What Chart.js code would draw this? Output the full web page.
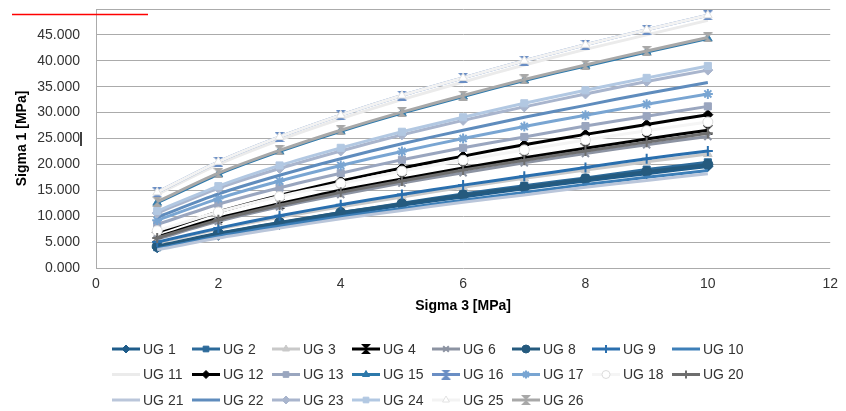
<!DOCTYPE html>
<html>
<head>
<meta charset="utf-8">
<script src="https://cdn.jsdelivr.net/npm/chart.js@4/dist/chart.umd.min.js"></script>
<style>
  body { margin: 0; background: #fff; }
  canvas { display: block; }
</style>
</head>
<body>
<canvas id="sigmaChart" width="846" height="411"></canvas>
<script>
// Sigma 3 values (x axis)
const sigma3 = [1, 2, 3, 4, 5, 6, 7, 8, 9, 10];

// Sigma 1 values per sample
const ug1  = [3.9, 6.3, 8.4, 10.3, 12.1, 13.7, 15.3, 16.8, 18.2, 19.6];
const ug2  = [4.0, 6.6, 8.7, 10.7, 12.5, 14.3, 15.9, 17.4, 19.0, 20.4];
const ug3  = [4.8, 7.5, 9.8, 11.8, 13.7, 15.6, 17.3, 18.9, 20.5, 22.0];
const ug4  = [6.0, 9.6, 12.4, 15.0, 17.2, 19.3, 21.3, 23.1, 24.9, 26.6];
const ug6  = [5.6, 9.0, 11.8, 14.2, 16.4, 18.4, 20.3, 22.1, 23.8, 25.4];
const ug8  = [4.2, 6.7, 8.8, 10.7, 12.4, 14.1, 15.6, 17.2, 18.6, 20.0];
const ug9  = [5.0, 7.7, 10.1, 12.2, 14.2, 16.0, 17.7, 19.4, 21.1, 22.6];
const ug10 = [3.7, 6.1, 8.1, 9.9, 11.5, 13.1, 14.6, 16.1, 17.5, 18.8];
const ug11 = [14.2, 20.0, 24.7, 28.8, 32.5, 35.9, 39.2, 42.2, 45.0, 47.8];
const ug12 = [6.9, 10.8, 14.0, 16.8, 19.3, 21.6, 23.8, 25.8, 27.7, 29.6];
const ug13 = [8.4, 12.3, 15.5, 18.3, 20.9, 23.2, 25.3, 27.4, 29.3, 31.2];
const ug15 = [12.6, 18.1, 22.5, 26.4, 29.9, 33.1, 36.2, 39.0, 41.7, 44.3];
const ug16 = [14.6, 20.5, 25.3, 29.5, 33.3, 36.7, 40.0, 43.1, 46.0, 48.8];
const ug17 = [9.2, 13.4, 16.8, 19.8, 22.5, 25.0, 27.3, 29.5, 31.6, 33.6];
const ug18 = [7.2, 10.8, 13.8, 16.3, 18.7, 20.8, 22.8, 24.7, 26.5, 28.2];
const ug20 = [5.8, 9.3, 12.1, 14.6, 16.8, 18.9, 20.8, 22.6, 24.3, 26.0];
const ug21 = [3.5, 5.8, 7.7, 9.5, 11.1, 12.7, 14.1, 15.6, 16.9, 18.2];
const ug22 = [9.8, 14.3, 17.9, 21.1, 24.0, 26.6, 29.1, 31.4, 33.7, 35.8];
const ug23 = [10.6, 15.4, 19.2, 22.6, 25.7, 28.5, 31.1, 33.6, 36.0, 38.2];
const ug24 = [11.0, 15.8, 19.8, 23.2, 26.3, 29.1, 31.8, 34.3, 36.7, 39.0];
const ug25 = [14.6, 20.5, 25.3, 29.5, 33.3, 36.7, 40.0, 43.1, 46.0, 48.8];
const ug26 = [12.8, 18.3, 22.7, 26.6, 30.1, 33.3, 36.4, 39.2, 41.9, 44.5];

const seriesNames = ['UG 1', 'UG 2', 'UG 3', 'UG 4', 'UG 6', 'UG 8', 'UG 9', 'UG 10',
  'UG 11', 'UG 12', 'UG 13', 'UG 15', 'UG 16', 'UG 17', 'UG 18', 'UG 20',
  'UG 21', 'UG 22', 'UG 23', 'UG 24', 'UG 25', 'UG 26'];
const seriesValues = [ug1, ug2, ug3, ug4, ug6, ug8, ug9, ug10,
  ug11, ug12, ug13, ug15, ug16, ug17, ug18, ug20,
  ug21, ug22, ug23, ug24, ug25, ug26];

// axis ranges
const xMax = 12, xStep = 2;
const yMax = 50, yStep = 5;

// hourglass marker like the Excel one
function hourglass(color) {
  const c = document.createElement('canvas');
  c.width = 10; c.height = 10;
  const g = c.getContext('2d');
  g.fillStyle = color;
  g.beginPath();
  g.moveTo(0, 0); g.lineTo(10, 0); g.lineTo(5, 5);
  g.lineTo(10, 10); g.lineTo(0, 10); g.lineTo(5, 5);
  g.closePath();
  g.fill();
  return c;
}

// [line colour, marker, marker fill, marker border]
const styles = [
  ['#1f5c8a', 'rectRot'], ['#2c6a9a', 'rect'], ['#c9c9c9', 'triangle'], ['#000000', 'hourglass'],
  ['#8c93a2', 'crossRot'], ['#255a7e', 'circle'], ['#2a6fae', 'cross'], ['#3d7fb8', null],
  ['#ebebeb', null], ['#000000', 'rectRot'], ['#9aa6bf', 'rect'], ['#2d79ab', 'triangle'],
  ['#6a8ec4', 'hourglass'], ['#79a5d2', 'star'], ['#f5f5f5', 'circle', '#ffffff', '#dcdcdc'], ['#6e6e6e', 'cross'],
  ['#bac6da', null], ['#5f8cbd', null], ['#a9b5cd', 'rectRot'], ['#b2c8e2', 'rect'],
  ['#f3f3f3', 'triangle', '#ffffff', '#e2e2e2'], ['#a8a8a8', 'hourglass']
];

const FONT = "'Liberation Sans', Arial, sans-serif";

const datasets = seriesNames.map((name, i) => {
  const [color, marker, fill, border] = styles[i];
  const ps = marker === 'hourglass' ? hourglass(color) : (marker || 'circle');
  return {
    label: name,
    data: sigma3.map((x, j) => ({ x, y: seriesValues[i][j] })),
    borderColor: color,
    backgroundColor: color,
    borderWidth: 3,
    pointStyle: ps,
    pointRadius: marker ? 5 : 0,
    pointHoverRadius: marker ? 5 : 0,
    pointBackgroundColor: fill || color,
    pointBorderColor: border || color,
    pointBorderWidth: (marker === 'cross' || marker === 'crossRot' || marker === 'star') ? 2 : 1,
    tension: 0.25,
    order: seriesNames.length - i
  };
});

// legend drawn as an 8 column grid, like the Excel one
const gridLegend = {
  id: 'gridLegend',
  afterDraw(chart) {
    const ctx = chart.ctx;
    chart.data.datasets.forEach((ds, i) => {
      const x = 112 + (i % 8) * 80;
      const y = 349 + Math.floor(i / 8) * 25.5;
      ctx.save();
      ctx.strokeStyle = ds.borderColor;
      ctx.lineWidth = 3;
      ctx.beginPath();
      ctx.moveTo(x, y);
      ctx.lineTo(x + 28, y);
      ctx.stroke();
      if (ds.pointRadius > 0 && Chart.helpers && Chart.helpers.drawPoint) {
        ctx.fillStyle = ds.pointBackgroundColor;
        ctx.strokeStyle = ds.pointBorderColor;
        ctx.lineWidth = ds.pointBorderWidth;
        Chart.helpers.drawPoint(ctx, { pointStyle: ds.pointStyle, radius: 4, borderWidth: ds.pointBorderWidth, rotation: 0 }, x + 14, y);
      }
      ctx.fillStyle = '#333333';
      ctx.font = '14px ' + FONT;
      ctx.textBaseline = 'middle';
      ctx.textAlign = 'left';
      ctx.fillText(ds.label, x + 31, y + 1);
      ctx.restore();
    });

    // red squiggle line and the stray cursor mark
    ctx.save();
    ctx.strokeStyle = '#ff0000';
    ctx.lineWidth = 1.5;
    ctx.beginPath();
    ctx.moveTo(12, 14.5);
    ctx.lineTo(148, 14.5);
    ctx.stroke();
    ctx.strokeStyle = '#000000';
    ctx.beginPath();
    ctx.moveTo(81, 132);
    ctx.lineTo(81, 146);
    ctx.stroke();
    ctx.restore();
  }
};

new Chart(document.getElementById('sigmaChart'), {
  type: 'line',
  data: { datasets },
  plugins: [gridLegend],
  options: {
    responsive: false,
    animation: false,
    layout: { padding: { left: 0, right: 11, top: 9, bottom: 96 } },
    plugins: {
      legend: { display: false },
      tooltip: { enabled: false }
    },
    scales: {
      x: {
        type: 'linear',
        min: 0,
        max: xMax,
        afterFit(scale) { scale.height = 47; },
        ticks: {
          stepSize: xStep,
          padding: 8,
          color: '#333333',
          font: { family: FONT, size: 14 }
        },
        grid: { display: false, drawTicks: false },
        border: { display: false },
        title: {
          display: true,
          text: 'Sigma 3 [MPa]',
          color: '#000000',
          font: { family: FONT, size: 14, weight: 'bold' },
          padding: { top: 0, bottom: 0 }
        }
      },
      y: {
        min: 0,
        max: yMax,
        afterFit(scale) {
          scale.width = 96;
          scale.paddingTop = 0;
          scale.paddingBottom = 0;
        },
        ticks: {
          stepSize: yStep,
          padding: 16,
          color: '#333333',
          font: { family: FONT, size: 14 },
          callback: v => v === yMax ? '' : v.toFixed(3)
        },
        grid: { color: '#ababab', lineWidth: 1, drawTicks: false },
        border: { display: true, color: '#ababab' },
        title: {
          display: true,
          text: 'Sigma 1 [MPa]',
          color: '#000000',
          font: { family: FONT, size: 14, weight: 'bold' },
          padding: { top: 14, bottom: 0 }
        }
      }
    }
  }
});
</script>
</body>
</html>
